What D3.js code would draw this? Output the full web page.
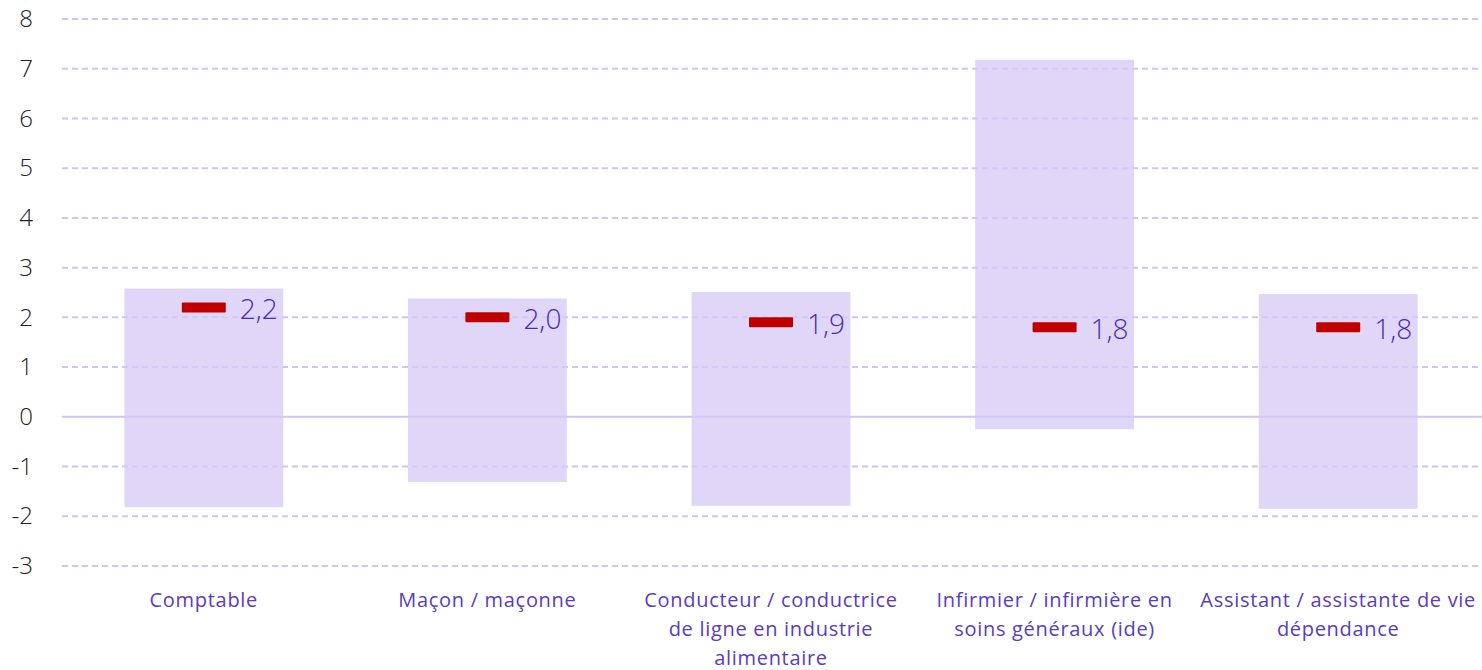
<!DOCTYPE html>
<meta charset="utf-8">
<style>
body { margin: 0; background: #fff; }
svg { display: block; }
.tick text { font-family: "Open Sans", sans-serif; font-weight: 300; font-size: 24px; fill: #222; }
.cat { font-family: "Open Sans", sans-serif; font-size: 20px; fill: #5a3cc0; letter-spacing: 0.7px; }
.val { font-family: "Open Sans", sans-serif; font-weight: 300; font-size: 28px; fill: #4a2bb0; }
</style>
<body>
<script src="https://cdn.jsdelivr.net/npm/d3@7"></script>
<script>

var categories = [
  ["Comptable"],
  ["Maçon / maçonne"],
  ["Conducteur / conductrice", "de ligne en industrie", "alimentaire"],
  ["Infirmier / infirmière en", "soins généraux (ide)"],
  ["Assistant / assistante de vie", "dépendance"]
];
var lows = [-1.82, -1.31, -1.79, -0.25, -1.85];
var highs = [2.58, 2.38, 2.51, 7.18, 2.47];
var values = [2.2, 2.0, 1.9, 1.8, 1.8];
var yTicks = [-3, -2, -1, 0, 1, 2, 3, 4, 5, 6, 7, 8];

var width = 1482, height = 670;
var margin = {left: 62, right: 2, top: 19, bottom: 104};

var svg = d3.select("body").append("svg")
  .attr("width", width)
  .attr("height", height);

var x = d3.scaleBand()
  .domain(d3.range(categories.length))
  .range([margin.left, width - margin.right])
  .paddingInner(0.44)
  .paddingOuter(0.22);

var y = d3.scaleLinear()
  .domain([-3, 8])
  .range([height - margin.bottom, margin.top]);

// gridlines
svg.append("g").selectAll("line")
  .data(yTicks)
  .enter().append("line")
  .attr("x1", margin.left)
  .attr("x2", width)
  .attr("y1", function(d) { return y(d); })
  .attr("y2", function(d) { return y(d); })
  .attr("stroke", "#d2c2f5")
  .attr("stroke-width", 2)
  .attr("stroke-dasharray", function(d) { return d == 0 ? null : "6,4"; });

// axis labels
var yAxis = svg.append("g")
  .attr("transform", "translate(" + 33 + ",0)")
  .call(d3.axisLeft(y).tickValues(yTicks).tickSize(0).tickPadding(0)
    .tickFormat(function(d) { return String(d); }));
yAxis.select(".domain").remove();

// range bars
svg.append("g").selectAll("rect")
  .data(d3.range(categories.length))
  .enter().append("rect")
  .attr("x", function(i) { return x(i); })
  .attr("width", x.bandwidth())
  .attr("y", function(i) { return y(highs[i]); })
  .attr("height", function(i) { return y(lows[i]) - y(highs[i]); })
  .attr("fill", "#d6c9f6")
  .attr("fill-opacity", 0.75);

// value markers
var mw = 44, mh = 10;
svg.append("g").selectAll("rect")
  .data(values)
  .enter().append("rect")
  .attr("x", function(d, i) { return x(i) + x.bandwidth() / 2 - mw / 2; })
  .attr("y", function(d) { return y(d) - mh / 2; })
  .attr("width", mw)
  .attr("height", mh)
  .attr("rx", 1)
  .attr("fill", "#c00000");

svg.append("g").selectAll("text")
  .data(values)
  .enter().append("text")
  .attr("class", "val")
  .attr("x", function(d, i) { return x(i) + x.bandwidth() / 2 + mw / 2 + 14; })
  .attr("y", function(d) { return y(d); })
  .attr("dy", "0.42em")
  .text(function(d) { return d.toFixed(1).replace(".", ","); });

// category labels
var cat = svg.append("g").selectAll("text")
  .data(categories)
  .enter().append("text")
  .attr("class", "cat")
  .attr("text-anchor", "middle")
  .attr("x", function(d, i) { return x(i) + x.bandwidth() / 2; })
  .attr("y", 607);

cat.selectAll("tspan")
  .data(function(d) { return d; })
  .enter().append("tspan")
  .attr("x", function() { return d3.select(this.parentNode).attr("x"); })
  .attr("dy", function(d, j) { return j == 0 ? 0 : 29; })
  .text(function(d) { return d; });

</script>
</body>
